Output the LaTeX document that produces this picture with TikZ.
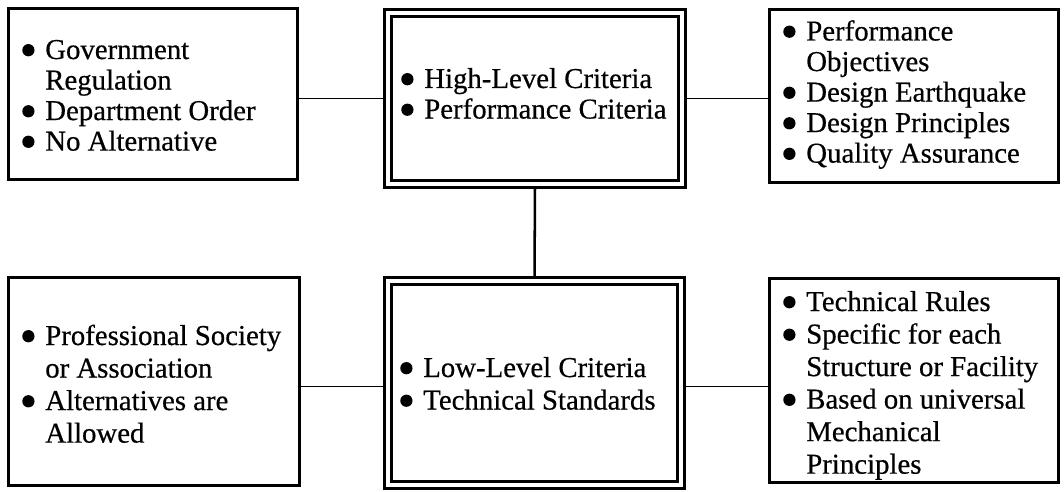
\documentclass[tikz,border=0pt]{standalone}
\usepackage{fontspec}
\setmainfont{Liberation Serif}[FakeBold=0.5]
\usetikzlibrary{backgrounds}
\newcommand\bul{\makebox[17.25pt][l]{\tikz[baseline=0pt]\fill[black] (4.6pt,6.6pt) circle [radius=4.6pt];}}
\newcommand\ind{\hspace*{17.25pt}}
\tikzset{
  sbox/.style={draw, line width=2.25pt, inner sep=0pt},
  dbox/.style={draw, line width=2.5pt, double, double distance=2.6pt, inner sep=0pt},
  toptxt/.style={anchor=base west, inner sep=0pt, font=\fontsize{21.6}{22.9}\selectfont},
  bottxt/.style={anchor=base west, inner sep=0pt, font=\fontsize{21.6}{24.4}\selectfont},
  hlink/.style={line width=1.4pt},
  vlink/.style={line width=1.9pt}
}
\begin{document}
\begin{tikzpicture}[x=0.75pt,y=-0.75pt]
\useasboundingbox (0,0) rectangle (1064,492);
% boxes
\node[sbox, minimum width=216.75pt, minimum height=128.25pt] (tl) at (153,94) {};
\node[dbox, minimum width=220.5pt, minimum height=128.25pt] (tm) at (535,98.5) {};
\node[sbox, minimum width=216.75pt, minimum height=129.4pt] (tr) at (914,95.75) {};
\node[sbox, minimum width=218.25pt, minimum height=156pt] (bl) at (153.5,381.5) {};
\node[dbox, minimum width=219.75pt, minimum height=153pt] (bm) at (534.5,383) {};
\node[sbox, minimum width=216.4pt, minimum height=153pt] (br) at (913.75,380) {};
% texts
\node[toptxt] (tltext) at (22,59) {\begin{tabular}[t]{@{}l@{}}
\bul Government\\ \ind Regulation\\ \bul Department Order\\ \bul No Alternative\end{tabular}};
\node[toptxt] (tmtext) at (401,88) {\begin{tabular}[t]{@{}l@{}}
\bul High-Level Criteria\\ \bul Performance Criteria\end{tabular}};
\node[toptxt] (trtext) at (783,40.5) {\begin{tabular}[t]{@{}l@{}}
\bul Performance\\ \ind Objectives\\ \bul Design Earthquake\\ \bul Design Principles\\ \bul Quality Assurance\end{tabular}};
\node[bottxt] (bltext) at (22,345) {\begin{tabular}[t]{@{}l@{}}
\bul Professional Society\\ \ind or Association\\ \bul Alternatives are\\ \ind Allowed\end{tabular}};
\node[bottxt] (bmtext) at (400,377) {\begin{tabular}[t]{@{}l@{}}
\bul Low-Level Criteria\\ \bul Technical Standards\end{tabular}};
\node[bottxt] (brtext) at (783,311) {\begin{tabular}[t]{@{}l@{}}
\bul Technical Rules\\ \bul Specific for each\\ \ind Structure or Facility\\ \bul Based on universal\\ \ind Mechanical\\ \ind Principles\end{tabular}};
% connectors
\coordinate (bml) at ([yshift=-2.6pt]bm.west);
\coordinate (bmr) at ([yshift=-2.6pt]bm.east);
\begin{scope}[on background layer]
\draw[hlink] (tl.east |- tm.west) -- (tm.west);
\draw[hlink] (tm.east) -- (tm.east -| tr.west);
\draw[vlink] (tm.south) -- (bm.north);
\draw[hlink] (bl.east |- bml) -- (bml);
\draw[hlink] (bmr) -- (bmr -| br.west);
\end{scope}
\end{tikzpicture}
\end{document}
